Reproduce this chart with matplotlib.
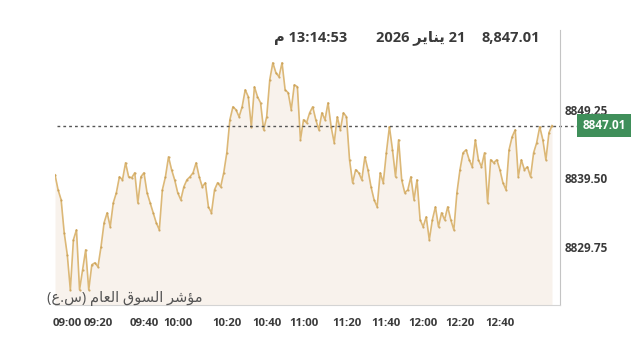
import numpy as np
import matplotlib
matplotlib.use("Agg")
import matplotlib.pyplot as plt

# index level (one point per update)
values = [
    8840.01, 8837.88, 8836.46, 8831.77, 8828.64, 8823.66, 8830.77, 8832.19, 8823.66, 8826.51,
    8829.35, 8823.66, 8827.22, 8827.50, 8826.93, 8829.78, 8833.19, 8834.61, 8832.62, 8836.03,
    8837.46, 8839.73, 8839.30, 8841.72, 8839.73, 8839.59, 8840.30, 8836.03, 8839.73, 8840.30,
    8837.46, 8836.03, 8834.61, 8833.19, 8832.19, 8837.88, 8839.73, 8842.57, 8840.73, 8839.30,
    8837.46, 8836.46, 8838.31, 8839.30, 8839.73, 8840.30, 8841.72, 8839.73, 8838.31, 8838.88,
    8835.46, 8834.61, 8837.88, 8838.88, 8838.31, 8840.30, 8843.14, 8847.84, 8849.68, 8849.26,
    8848.26, 8849.68, 8852.10, 8851.11, 8846.84, 8852.53, 8851.11, 8850.25, 8846.41, 8848.26,
    8853.52, 8855.94, 8854.52, 8853.95, 8855.94, 8852.10, 8851.68, 8849.26, 8852.81, 8852.53,
    8844.99, 8847.84, 8847.41, 8848.83, 8849.68, 8847.84, 8846.41, 8848.83, 8847.84, 8850.25,
    8846.84, 8844.57, 8848.26, 8846.41, 8848.83, 8848.26, 8842.15, 8838.88, 8840.73, 8840.30,
    8839.30, 8842.57, 8840.73, 8838.31, 8836.46, 8835.46, 8840.30, 8838.88, 8843.14, 8846.84,
    8843.57, 8839.73, 8844.99, 8839.30, 8837.46, 8837.88, 8839.73, 8836.46, 8839.30, 8833.62,
    8832.62, 8834.04, 8830.77, 8833.62, 8835.46, 8832.62, 8834.61, 8833.62, 8835.46, 8833.62,
    8832.19, 8837.46, 8840.73, 8843.14, 8843.57, 8842.15, 8841.15, 8844.99, 8842.15, 8841.15,
    8843.14, 8836.03, 8842.15, 8841.72, 8842.15, 8840.73, 8838.88, 8837.88, 8843.57, 8845.42,
    8846.41, 8839.73, 8842.15, 8840.73, 8841.15, 8839.73, 8843.14, 8844.57, 8846.84, 8844.99,
    8842.15, 8845.99, 8847.01,
]
last_value = 8847.01

time_labels = ["09:00", "09:20", "09:40", "10:00", "10:20", "10:40", "11:00",
               "11:20", "11:40", "12:00", "12:20", "12:40"]
time_index = [4, 14, 29, 40, 56, 69, 81, 95, 108, 120, 132, 145]

y_ticks = [8829.75, 8839.50, 8849.25]

# Arabic written in presentation forms, visual (left-to-right) order
month_ar = "\uFEAE\uFEF3\uFE8E\uFEE8\uFEF3"            # يناير
pm_ar = "\uFEE1"                                        # م
index_name_ar = ("(\uFEC9.\uFEB1) "
                 "\uFEE1\uFE8E\uFECC\uFEDF\uFE8D "      # العام
                 "\uFED5\uFEEE\uFEB4\uFEDF\uFE8D "      # السوق
                 "\uFEAE\uFEB7\uFE86\uFEE3")            # مؤشر

fam = ["Open Sans", "DejaVu Sans"]
text_col = "#3a3a3a"

fig = plt.figure(figsize=(6.4, 3.55), dpi=100)
ax = fig.add_axes([55/640, 50/355, 505/640, 275/355])

x = np.arange(len(values))
ymin, ymax = 8821.5, 8860.6
ax.fill_between(x, values, ymin, color="#f8f2ec", lw=0)
ax.plot(x, values, color="#dcb877", lw=1.2)
ax.plot(x, values, ls="none", marker="o", ms=1.6, mew=0, color="#c99e52", alpha=0.8)

ax.set_xlim(0, 164.6)
ax.set_ylim(ymin, ymax)

ax.axhline(last_value, xmin=0.004, xmax=1.034, color="#555555", lw=1,
           ls=(0, (2, 2.2)), clip_on=False)
ax.text(1.088, last_value, "8847.01", transform=ax.get_yaxis_transform(),
        ha="center", va="center", color="white", fontsize=8.5, fontweight="bold",
        family=fam,
        bbox=dict(boxstyle="square,pad=0.45", fc="#3f8f5a", ec="none"))

ax.yaxis.tick_right()
ax.set_yticks(y_ticks)
ax.set_yticklabels(["%.2f" % v for v in y_ticks], family=fam, fontweight="bold",
                   fontsize=8.5, color=text_col)
ax.set_xticks(time_index)
ax.set_xticklabels(time_labels, family=fam, fontweight="bold", fontsize=8.2,
                   color=text_col)
ax.tick_params(axis="y", length=0, pad=3)
ax.tick_params(axis="x", length=0, pad=9)

for s in ["top", "left"]:
    ax.spines[s].set_visible(False)
ax.spines["right"].set_color("#c4c4c4")
ax.spines["bottom"].set_color("#d4d4d4")

# header
fig.text(540/640, 1 - 38/355, "8,847.01", ha="right", va="center",
         family=fam, fontweight="bold", fontsize=10.5, color=text_col)
fig.text(465/640, 1 - 38/355, "2026 " + month_ar + " 21", ha="right", va="center",
         family=fam, fontweight="bold", fontsize=10.5, color=text_col)
fig.text(347/640, 1 - 38/355, pm_ar + " 13:14:53", ha="right", va="center",
         family=fam, fontweight="bold", fontsize=10.5, color=text_col)

fig.text(47/640, 1 - 299/355, index_name_ar, ha="left", va="center",
         family=fam, fontsize=10.5, color="#555555")

fig.savefig("out.png", dpi=100)
